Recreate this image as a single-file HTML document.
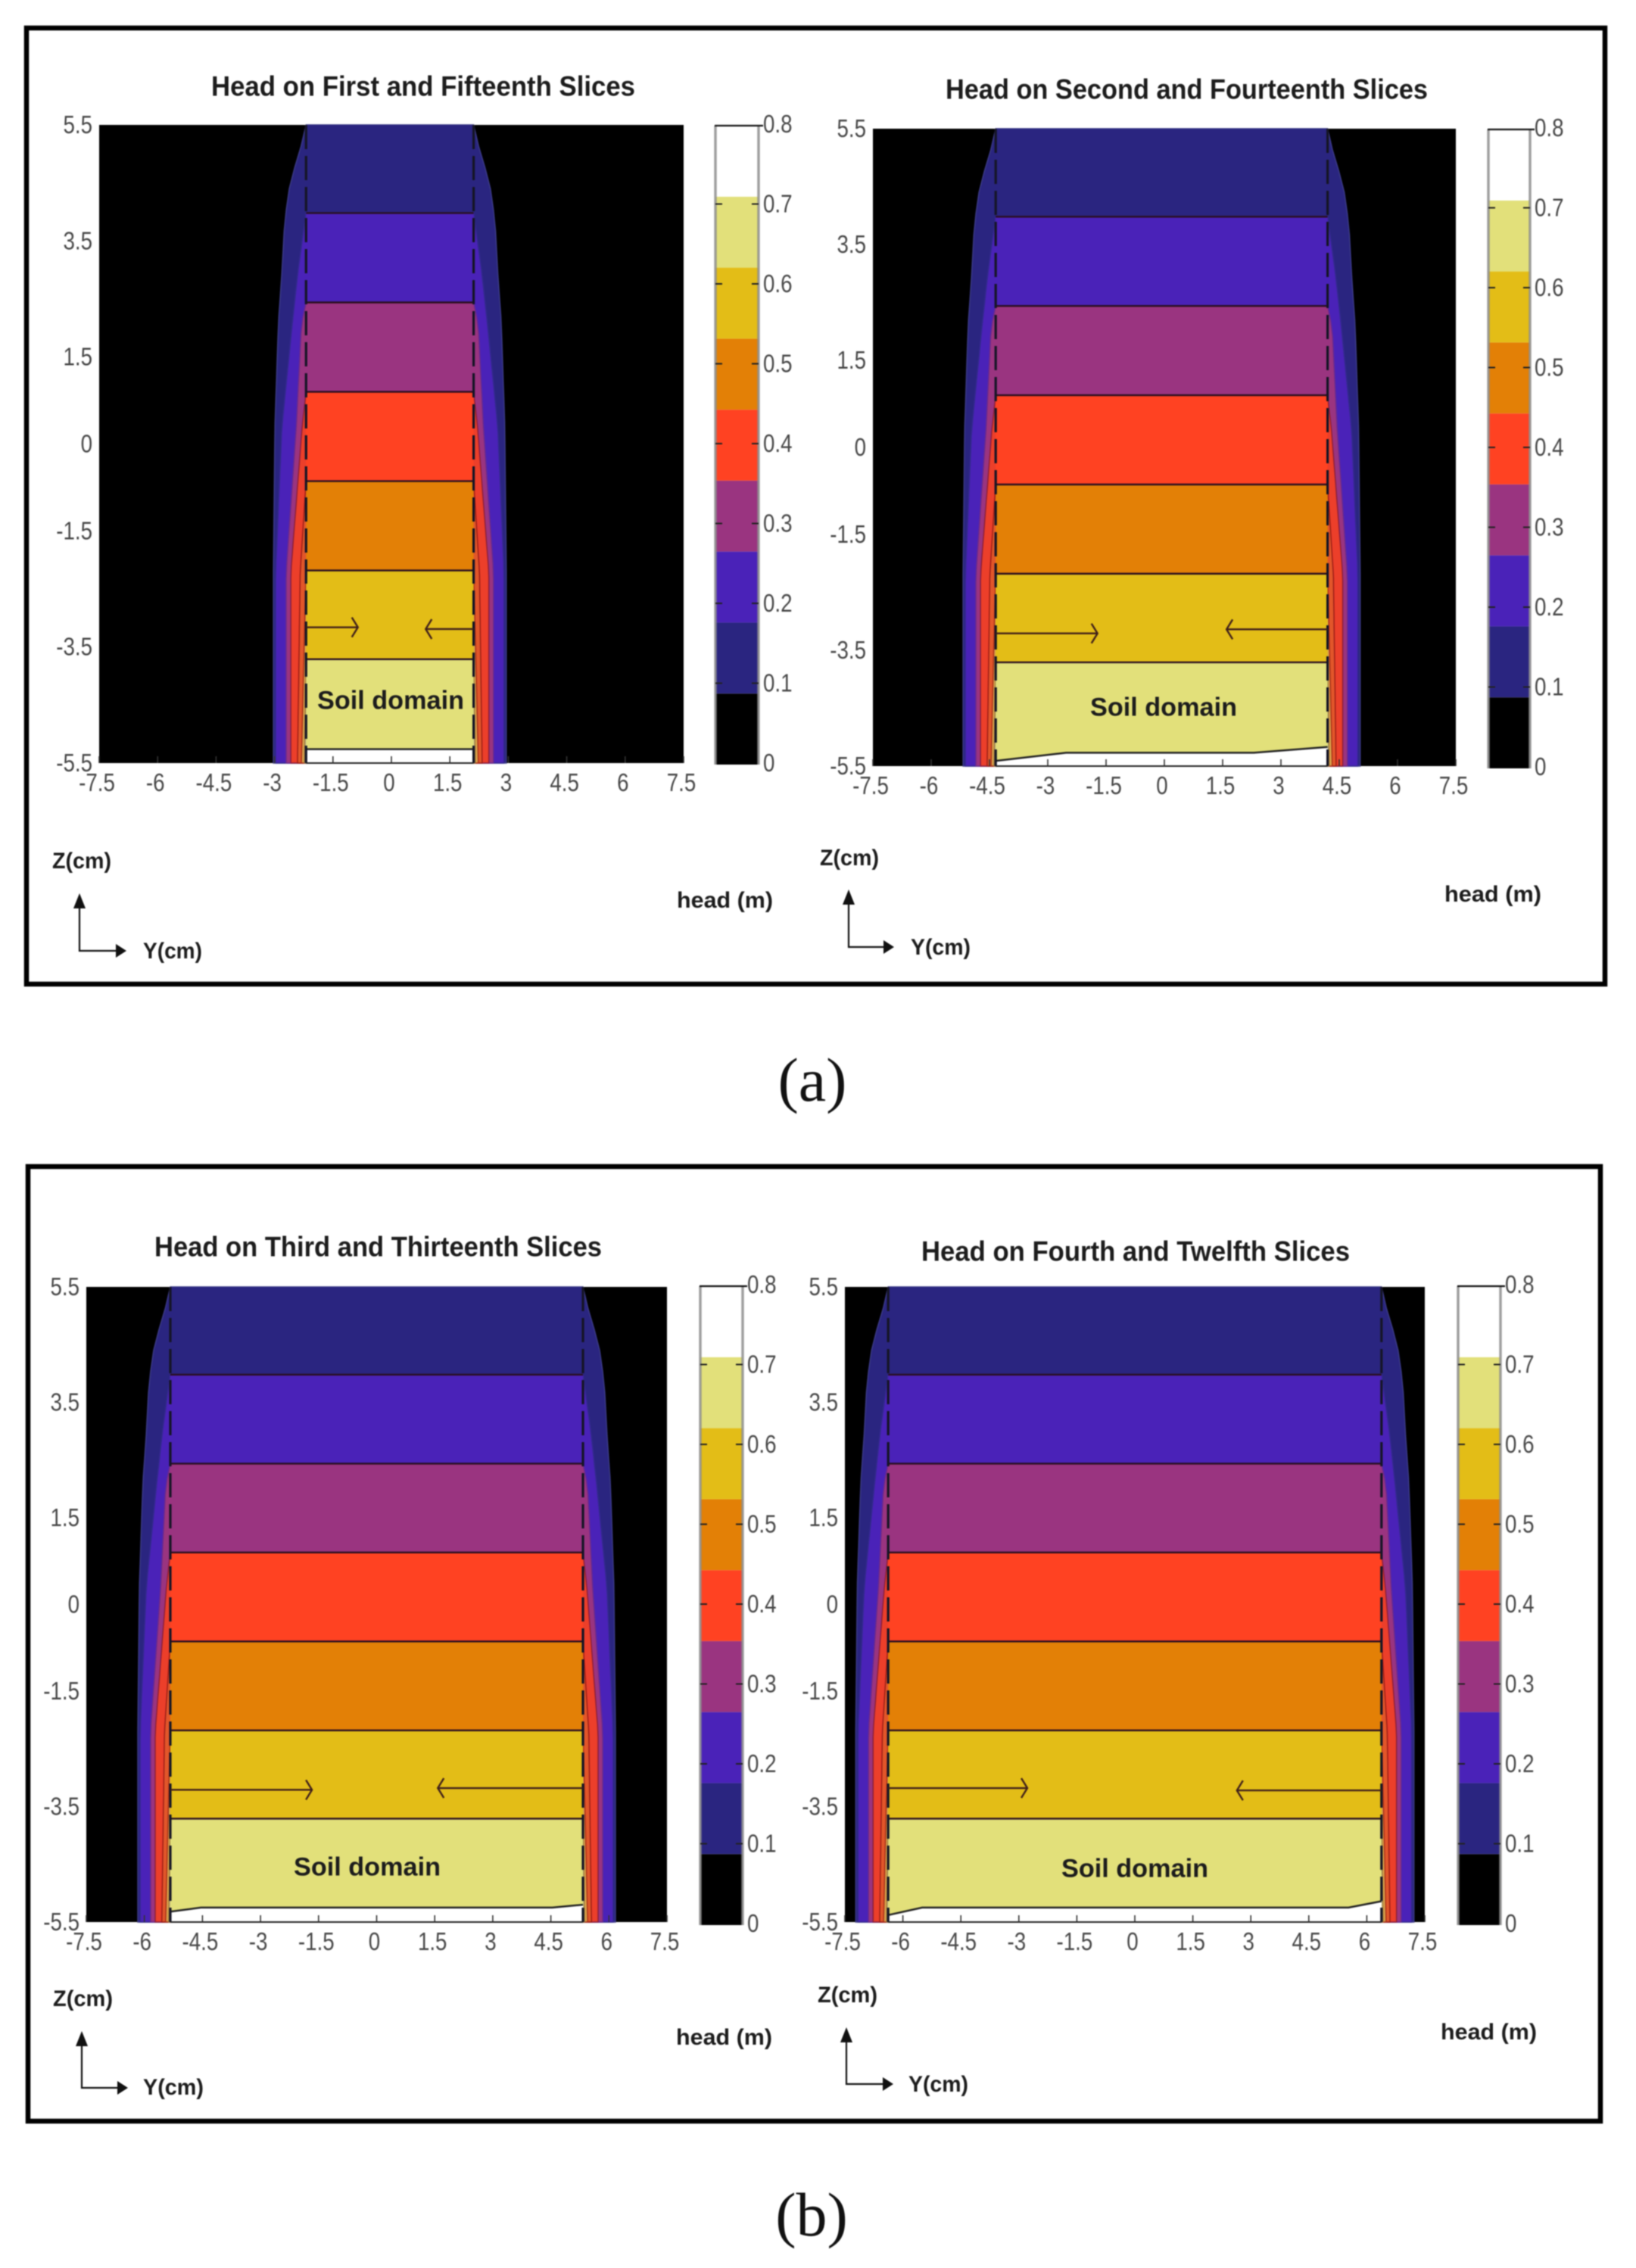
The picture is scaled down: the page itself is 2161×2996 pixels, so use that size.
<!DOCTYPE html>
<html lang="en">
<head>
<meta charset="utf-8">
<title>Head on slices contour plots</title>
<style>
html,body{margin:0;padding:0;background:#fff;width:2161px;height:2996px;overflow:hidden}
svg{display:block;position:absolute;left:0;top:0;filter:blur(0.8px)}
text{font-family:"Liberation Sans",sans-serif}
</style>
</head>
<body>
<svg id="fig" xmlns="http://www.w3.org/2000/svg" width="2161" height="2996" viewBox="0 0 2161 2996">
  <rect x="35" y="37" width="2085" height="1263" fill="#fff" stroke="#000" stroke-width="6.5"/>
  <rect x="37" y="1541" width="2077" height="1261" fill="#fff" stroke="#000" stroke-width="6.5"/>
  <text x="1073" y="1454" text-anchor="middle" style="font-family:'Liberation Serif',serif;font-size:82px" fill="#111">(a)</text>
  <text x="1072" y="2953" text-anchor="middle" style="font-family:'Liberation Serif',serif;font-size:82px" fill="#111">(b)</text>
</svg>
<script>
// ---- chart data ----
const panelTitles = ["Head on First and Fifteenth Slices","Head on Second and Fourteenth Slices","Head on Third and Thirteenth Slices","Head on Fourth and Twelfth Slices"];
const yTicks = [5.5,3.5,1.5,0,-1.5,-3.5,-5.5];
const yTickLabels = ["5.5","3.5","1.5","0","-1.5","-3.5","-5.5"];
const xTicks = [-7.5,-6,-4.5,-3,-1.5,0,1.5,3,4.5,6,7.5];
const xTickLabels = ["-7.5","-6","-4.5","-3","-1.5","0","1.5","3","4.5","6","7.5"];
const cbTicks = [0,0.1,0.2,0.3,0.4,0.5,0.6,0.7,0.8];
const cbTickLabels = ["0","0.1","0.2","0.3","0.4","0.5","0.6","0.7","0.8"];
const cbColors = ["#000000","#2a2580","#4a22b8","#9a3480","#ff4222","#e38006","#e3bd17","#e2e07a","#ffffff"];
const cbLevelEdges = [0,0.0889,0.1778,0.2667,0.3556,0.4444,0.5333,0.6222,0.7111,0.8];
const domainHalfWidth = [2.15,4.27,5.33,6.38];
const domainCentre = [-0.04,-0.07,0,0];
const bandEdgeZ = [3.98,2.44,0.90,-0.64,-2.18,-3.71];
const navyZ = [5.5,5.15,4.5,3.84,2.96,2.1,0.3,-2.2,-5.5];
const navyOffset = [0,0.12,0.41,0.55,0.62,0.71,0.8,0.84,0.84];
const violetZ = [3.98,2.96,2.1,0.3,-2.2,-5.5];
const violetOffset = [0,0.21,0.35,0.62,0.78,0.78];
const purpleZ = [2.44,2.05,0.3,-2.2,-5.5];
const purpleOffset = [0,0.12,0.25,0.51,0.51];
const redZ = [0.9,0.3,-2.2,-5.5];
const redOffset = [0,0.1,0.39,0.39];
const orangeZ = [-0.64,-2.2,-5.5];
const orangeOffset = [0,0.15,0.22];
const goldZ = [-2.18,-3.5,-5.5];
const goldOffset = [0,0.05,0.12];
const yellowZ = [-3.71,-5.5];
const yellowOffset = [0,0.04];
const soilEdgeY1 = [-2.15,2.15];
const soilEdgeZ1 = [-5.26,-5.26];
const soilEdgeY2 = [-4.27,-2.46,2.37,4.27];
const soilEdgeZ2 = [-5.41,-5.27,-5.27,-5.17];
const soilEdgeY3 = [-5.33,-4.54,4.54,5.33];
const soilEdgeZ3 = [-5.32,-5.25,-5.25,-5.2];
const soilEdgeY4 = [-6.38,-5.5,5.53,6.38];
const soilEdgeZ4 = [-5.38,-5.25,-5.25,-5.14];
const arrowLeftTip = [-0.86,-1.72,-1.67,-2.78];
const arrowLeftZ = [-3.16,-3.21,-3.21,-3.18];
const arrowRightTip = [0.88,1.6,1.58,2.64];
const arrowRightZ = [-3.19,-3.14,-3.18,-3.22];

// ---- page layout (pixels) ----
const panelLayouts = [
 {axL:131,axR:903,axT:165,axB:1008,cbL:945,cbR:1002,cbT:166,cbB:1010,title:[279,839,114],z:[69,147,1137],head:[894,1021,1189],y:[189,267,1256],cx:105,cy:1256,top:1180,right:167,soil:[516,925]},
 {axL:1153,axR:1923,axT:170,axB:1012,cbL:1966,cbR:2021,cbT:171,cbB:1015,title:[1249,1886,118],z:[1083,1161,1133],head:[1908,2036,1181],y:[1203,1282,1251],cx:1121,cy:1251,top:1175,right:1181,soil:[1537,934]},
 {axL:114,axR:881,axT:1700,axB:2539,cbL:925,cbR:981,cbT:1699,cbB:2543,title:[204,795,1647],z:[70,149,2640],head:[893,1020,2691],y:[189,269,2757],cx:108,cy:2758,top:2683,right:169,soil:[485,2466]},
 {axL:1116,axR:1882,axT:1700,axB:2539,cbL:1926,cbR:1982,cbT:1699,cbB:2543,title:[1217,1783,1653],z:[1080,1159,2635],head:[1903,2030,2684],y:[1200,1279,2753],cx:1118,cy:2753,top:2678,right:1180,soil:[1499,2468]}
];

const NS = "http://www.w3.org/2000/svg";
const fig = document.getElementById("fig");
function make(tag, attrs, parent){
  const el = document.createElementNS(NS, tag);
  for (const k in attrs) el.setAttribute(k, attrs[k]);
  (parent || fig).appendChild(el);
  return el;
}
function interp(zs, offs, z){
  for (let i = 0; i < zs.length - 1; i++){
    if (z <= zs[i] && z >= zs[i+1]){
      const t = (zs[i] - z) / (zs[i] - zs[i+1]);
      return offs[i] + t * (offs[i+1] - offs[i]);
    }
  }
  return offs[offs.length - 1];
}
function drawLabel(g, box, text, size, name){
  const t = make("text", {x:box[0], y:box[2] + size * 0.34, textLength:box[1]-box[0], lengthAdjust:"spacingAndGlyphs", "font-size":size, "font-weight":"bold", fill:"#1c1c1c"}, g);
  t.textContent = text;
  
  
}
function tickText(g, x, y, anchor, text){
  const t = make("text", {transform:"translate(" + x.toFixed(1) + " " + y.toFixed(1) + ") scale(0.84 1)", "text-anchor":anchor, "font-size":33, fill:"#484848"}, g);
  t.textContent = text;
  return t;
}

const levelSets = [
  {zs:navyZ, offs:navyOffset, color:cbColors[1], edge:"#3b3a86"},
  {zs:violetZ, offs:violetOffset, color:cbColors[2], edge:"#34298f"},
  {zs:purpleZ, offs:purpleOffset, color:cbColors[3], edge:"#6b2a8c"},
  {zs:redZ, offs:redOffset, color:"#ec3f2a", edge:"#8c1f3a"},
  {zs:orangeZ, offs:orangeOffset, color:"#e2562a", edge:"#9c1e16"},
  {zs:goldZ, offs:goldOffset, color:"#d9a24a", edge:"#a83018"},
  {zs:yellowZ, offs:yellowOffset, color:"#c9c08a", edge:"#9a7a40"}
];
const soilEdgesY = [soilEdgeY1,soilEdgeY2,soilEdgeY3,soilEdgeY4];
const soilEdgesZ = [soilEdgeZ1,soilEdgeZ2,soilEdgeZ3,soilEdgeZ4];

panelLayouts.forEach(function(L, p){
  const X = function(v){ return L.axL + (v + 7.5) / 15 * (L.axR - L.axL); };
  const Y = function(v){ return L.axT + (5.5 - v) / 11 * (L.axB - L.axT); };
  const CB = function(v){ return L.cbB - v / 0.8 * (L.cbB - L.cbT); };
  const hw = domainHalfWidth[p];
  const D = function(v){ return X(v + domainCentre[p]); };

  const g = make("g", {});
  
  

  const bg = make("rect", {x:L.axL, y:L.axT, width:L.axR-L.axL, height:L.axB-L.axT, fill:"#000"}, g);
  
  

  levelSets.forEach(function(lv, li){
    const steps = 30;
    const zTop = lv.zs[0], zBot = lv.zs[lv.zs.length-1];
    const left = [], right = [];
    for (let i = 0; i <= steps; i++){
      const z = zTop + (zBot - zTop) * i / steps;
      const o = interp(lv.zs, lv.offs, z);
      left.push(D(-hw - o).toFixed(1) + "," + Y(z).toFixed(1));
      right.unshift(D(hw + o).toFixed(1) + "," + Y(z).toFixed(1));
    }
    const band = make("polygon", {points:left.concat(right).join(" "), fill:lv.color, stroke:lv.edge, "stroke-width":1.5}, g);
    
    
    const inner = make("rect", {x:D(-hw), width:D(hw)-D(-hw), y:Y(zTop), height:Y(zBot)-Y(zTop), fill:cbColors[li + 1]}, g);
    
    
  });

  const sy = soilEdgesY[p], sz = soilEdgesZ[p];
  const wp = [];
  sy.forEach(function(v, i){ wp.push(D(v).toFixed(1) + "," + Y(sz[i]).toFixed(1)); });
  const whitePoly = wp.concat([D(hw).toFixed(1) + "," + Y(-5.5).toFixed(1), D(-hw).toFixed(1) + "," + Y(-5.5).toFixed(1)]);
  const white = make("polygon", {points:whitePoly.join(" "), fill:"#fff"}, g);
  
  
  const soilLine = make("polyline", {points:wp.join(" "), fill:"none", stroke:"#222", "stroke-width":2.5}, g);
  
  

  bandEdgeZ.forEach(function(z){
    const ln = make("line", {x1:D(-hw), x2:D(hw), y1:Y(z), y2:Y(z), stroke:"#2a0f20", "stroke-width":2.4}, g);
    
    
  });

  [-hw, hw].forEach(function(v){
    const d = make("line", {x1:D(v), x2:D(v), y1:Y(5.5), y2:Y(-5.5), stroke:"#151525", "stroke-width":3.2, "stroke-dasharray":"32 9"}, g);
    
    
  });

  const base = make("line", {x1:D(-hw), x2:D(hw), y1:Y(-5.5), y2:Y(-5.5), stroke:"#222", "stroke-width":2}, g);
  
  

  xTicks.forEach(function(v, i){
    const tk = make("line", {x1:X(v), x2:X(v), y1:Y(-5.5), y2:Y(-5.5)-9, stroke:"#333", "stroke-width":1.6}, g);
    
    
    const t = tickText(g, X(v)-3, L.axB+37, "middle", xTickLabels[i]);
    
    
  });
  yTicks.forEach(function(v, i){
    const t = tickText(g, L.axL-9, Y(v)+11, "end", yTickLabels[i]);
    
    
  });

  // flow arrows
  const lz = Y(arrowLeftZ[p]), rz = Y(arrowRightZ[p]), lt = X(arrowLeftTip[p]), rt = X(arrowRightTip[p]);
  const arrowL = make("path", {d:"M"+D(-hw)+" "+lz+"L"+lt+" "+lz+"M"+(lt-8)+" "+(lz-13)+"L"+lt+" "+lz+"L"+(lt-8)+" "+(lz+13), fill:"none", stroke:"#40201a", "stroke-width":2.4}, g);
  
  
  const arrowR = make("path", {d:"M"+D(hw)+" "+rz+"L"+rt+" "+rz+"M"+(rt+8)+" "+(rz-13)+"L"+rt+" "+rz+"L"+(rt+8)+" "+(rz+13), fill:"none", stroke:"#40201a", "stroke-width":2.4}, g);
  
  

  // colorbar
  cbColors.forEach(function(c, i){
    const r = make("rect", {x:L.cbL, width:L.cbR-L.cbL, y:CB(cbLevelEdges[i+1]), height:CB(cbLevelEdges[i])-CB(cbLevelEdges[i+1]), fill:c}, g);
    
    
  });
  const cbSides = make("path", {d:"M"+L.cbL+" "+L.cbT+"V"+L.cbB+"M"+L.cbR+" "+L.cbT+"V"+L.cbB, fill:"none", stroke:"#8e8e8e", "stroke-width":3.5, "stroke-opacity":0.85}, g);
  
  
  const cbTop = make("line", {x1:L.cbL-1, x2:L.cbR+6, y1:L.cbT, y2:L.cbT, stroke:"#111", "stroke-width":2.2}, g);
  
  
  cbTicks.forEach(function(v, i){
    const yy = CB(v) - 2;
    if (v > 0 && v < 0.8){
      const tk = make("path", {d:"M"+L.cbL+" "+yy+"h9M"+(L.cbR-9)+" "+yy+"h9", stroke:"#222", "stroke-width":2, fill:"none"}, g);
      
      
    }
    const t = tickText(g, L.cbR+6, yy+11, "start", cbTickLabels[i]);
    
    
  });

  drawLabel(g, L.title, panelTitles[p], 37, 'panel-title');
  drawLabel(g, L.z, "Z(cm)", 30, 'z-axis-title');
  drawLabel(g, L.y, "Y(cm)", 30, 'y-axis-title');
  drawLabel(g, L.head, "head (m)", 30, 'colorbar-title');
  drawLabel(g, [L.soil[0]-97, L.soil[0]+97, L.soil[1]], "Soil domain", 34, 'soil-domain-label');

  // orientation axes
  const orient = make("path", {d:"M"+L.cx+" "+(L.top+14)+"V"+L.cy+"H"+(L.right-14), fill:"none", stroke:"#111", "stroke-width":2.2}, g);
  
  
  const headUp = make("polygon", {points:L.cx+","+L.top+" "+(L.cx-8)+","+(L.top+20)+" "+(L.cx+8)+","+(L.top+20), fill:"#111"}, g);
  
  
  const headRight = make("polygon", {points:L.right+","+L.cy+" "+(L.right-14)+","+(L.cy-9)+" "+(L.right-14)+","+(L.cy+9), fill:"#111"}, g);
  
  
});
</script>
</body>
</html>
